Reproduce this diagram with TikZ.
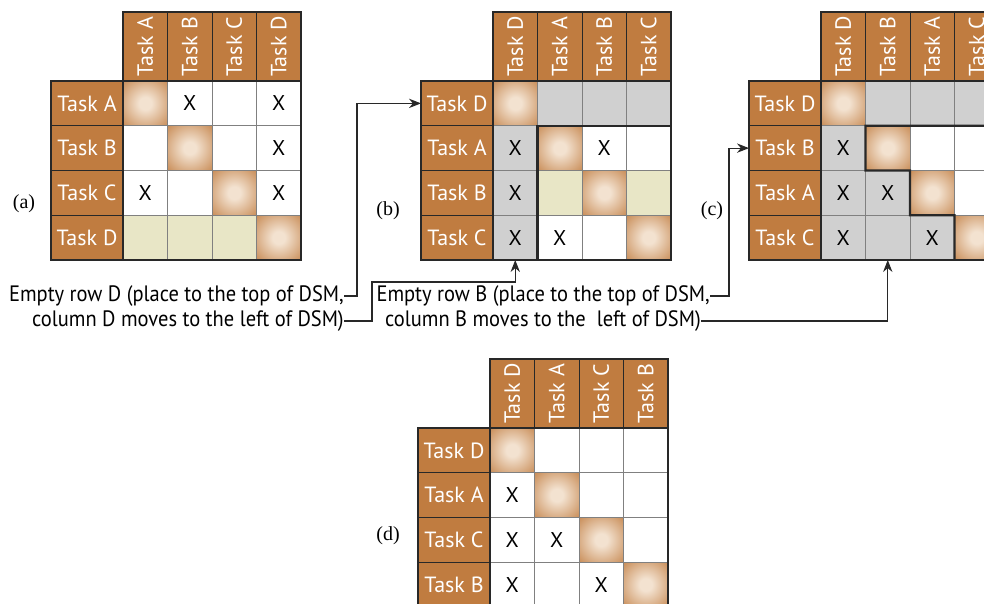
\documentclass[tikz,border=0pt]{standalone}
\usepackage{fontspec}
\setmainfont{Liberation Serif}
\setsansfont{PT Sans}
\newfontfamily\notefont[FakeStretch=0.92]{PT Sans}
\usetikzlibrary{arrows.meta,calc}

\definecolor{taskbrown}{RGB}{192,124,64}
\definecolor{glowc}{RGB}{243,226,208}
\definecolor{rowyel}{RGB}{232,230,198}
\definecolor{donegray}{RGB}{208,208,208}
\definecolor{inkgray}{RGB}{40,40,40}

% light spot in the middle of the diagonal cells
\pgfdeclareradialshading{glow}{\pgfpoint{0bp}{0bp}}{color(0bp)=(glowc); color(7bp)=(glowc); color(41bp)=(taskbrown); color(50bp)=(taskbrown)}

\tikzset{
  hdr/.style={draw=inkgray, fill=taskbrown, minimum width=33.375pt, minimum height=51.75pt, inner sep=0pt, outer sep=0pt, text=white, font=\sffamily\fontsize{16.5}{16.5}\selectfont},
  rlbl/.style={draw=inkgray, fill=taskbrown, minimum width=54pt, minimum height=33.56pt, inner sep=0pt, outer sep=0pt, text=white, font=\sffamily\fontsize{16.5}{16.5}\selectfont},
  cell/.style={draw=black!50, line width=0.5pt, fill=white, minimum width=33.375pt, minimum height=33.56pt, inner sep=0pt, outer sep=0pt, font=\sffamily\fontsize{16}{16}\selectfont},
  wt/.style={cell},
  gy/.style={cell, fill=donegray},
  yl/.style={cell, fill=rowyel},
  dg/.style={cell, shading=glow},
  thk/.style={draw=inkgray, line width=1.7pt},
  arr/.style={-{Stealth[length=9pt,width=7pt]}, draw=inkgray, line width=0.8pt},
  note/.style={font=\notefont\fontsize{16.7}{16.7}\selectfont, inner sep=0pt},
  tag/.style={font=\rmfamily\fontsize{15}{15}\selectfont, inner sep=0pt}
}

% DSM: prefix, top left of the body, task order, cells row by row
\newcommand\dsm[4]{%
  \begin{scope}[shift={(#2)}]
    \foreach \t [count=\i] in {#3} {
      \node[hdr, anchor=south west] (#1-h\i) at ({(\i-1)*44.5},0) {\rotatebox{90}{Task \t}};
      \node[rlbl, anchor=north east] (#1-r\i) at (0,{(\i-1)*44.75}) {Task \t};
    }
    \foreach \st/\txt [count=\n from 0] in {#4} {
      \pgfmathtruncatemacro\rr{\n/4+1}
      \pgfmathtruncatemacro\cc{mod(\n,4)+1}
      \node[\st, anchor=north west] (#1-\rr\cc) at ({(\cc-1)*44.5},{(\rr-1)*44.75}) {\txt};
    }
    \draw[thk] (#1-h1.south west) rectangle (#1-h4.north east);
    \draw[thk] (#1-r1.north west) rectangle (#1-r4.south east);
    \draw[thk] (#1-11.north west) rectangle (#1-44.south east);
  \end{scope}}

\begin{document}
\begin{tikzpicture}[x=0.75pt, y=-0.75pt]
  \useasboundingbox (0,0) rectangle (984,603);
  \clip (0,0) rectangle (984,603);

  % (a) original order
  \dsm{a}{123,81}{A,B,C,D}{dg/,wt/X,wt/,wt/X, wt/,dg/,wt/,wt/X, wt/X,wt/,dg/,wt/X, yl/,yl/,yl/,dg/}
  % (b) D moved first
  \dsm{b}{493,81}{D,A,B,C}{dg/,gy/,gy/,gy/, gy/X,dg/,wt/X,wt/, gy/X,yl/,dg/,yl/, gy/X,wt/X,wt/,dg/}
  \draw[thk] (b-42.south west) -- (b-22.north west) -- (b-24.north east);
  % (c) B moved second
  \dsm{c}{821,81}{D,B,A,C}{dg/,gy/,gy/,gy/, gy/X,dg/,wt/,wt/, gy/X,gy/X,dg/,wt/, gy/X,gy/,gy/X,dg/}
  \draw[thk] (c-24.north east) -- (c-22.north west) -- (c-22.south west) -- (c-33.north west)
    -- (c-33.south west) -- (c-44.north west) -- (c-44.south west);
  % (d) final order
  \dsm{d}{490,428}{D,A,C,B}{dg/,wt/,wt/,wt/, wt/X,dg/,wt/,wt/, wt/X,wt/X,dg/,wt/, wt/X,wt/,wt/X,dg/}

  \node[tag] (ta) at (24,204) {(a)};
  \node[tag] (tb) at (388,211) {(b)};
  \node[tag] (tc) at (712,211) {(c)};
  \node[tag] (td) at (388,536) {(d)};

  % notes and moves
  \node[note, anchor=east] (n1a) at (344,296) {Empty row D (place to the top of DSM,};
  \node[note, anchor=east] (n1b) at (344,321) {column D moves to the left of DSM)};
  \node[note, anchor=east] (n2a) at (710,296) {Empty row B (place to the top of DSM,};
  \node[note, anchor=east] (n2b) at (701,321) {column B moves to the~ left of DSM)};

  \coordinate (k1) at (357,0);
  \coordinate (k2) at (372,282);
  \coordinate (k3) at (729,0);
  \draw[arr] (n1a.east) -- (n1a.east -| k1) |- (b-r1.west);
  \draw[arr] (n1b.east) -| (k2) -| (b-41.south);
  \draw[arr] (n2a.east) -- (n2a.east -| k3) |- (c-r2.west);
  \draw[arr] (n2b.east) -| (c-42.south);
\end{tikzpicture}
\end{document}
